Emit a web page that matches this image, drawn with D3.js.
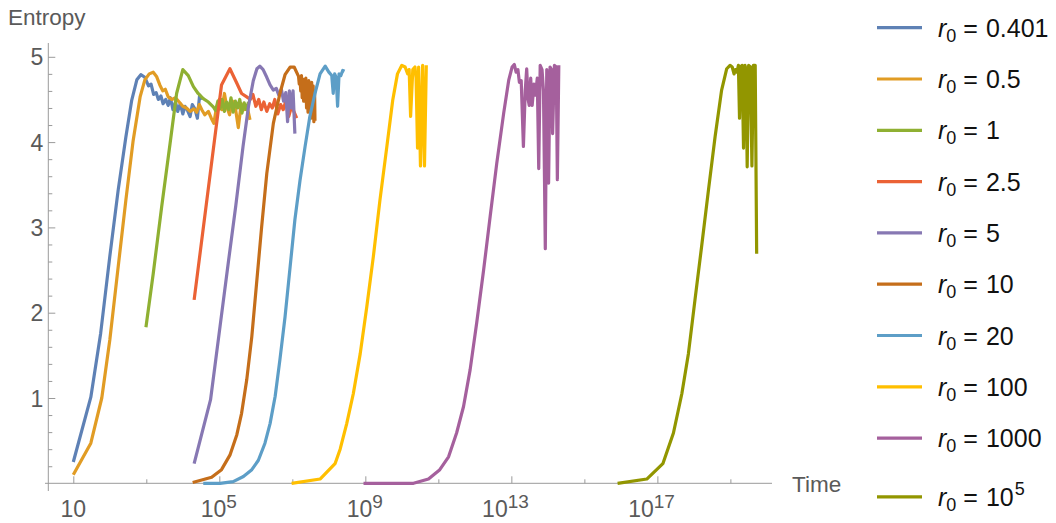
<!DOCTYPE html>
<html>
<head>
<meta charset="utf-8">
<script src="https://cdn.jsdelivr.net/npm/d3@7"></script>
<style>
  html, body { margin: 0; padding: 0; background: #fff; }
  svg { display: block; font-family: "Liberation Sans", Arial, sans-serif; }
</style>
</head>
<body>
<svg id="chart" width="1056" height="523"></svg>
<script>
// Entropy vs. time for several initial radii r0.
// Each point: [log10(time), entropy]
const r0_0401 = [[1.00,0.25],[1.48,1.01],[1.75,1.76],[2.00,2.66],[2.23,3.44],[2.44,4.06],[2.60,4.49],[2.74,4.73],[2.85,4.79],[2.96,4.76],[3.06,4.66],[3.13,4.68],[3.20,4.56],[3.27,4.58],[3.33,4.50],[3.40,4.54],[3.46,4.45],[3.53,4.50],[3.60,4.43],[3.66,4.52],[3.73,4.38],[3.80,4.47],[3.86,4.36],[3.93,4.45],[4.00,4.33],[4.06,4.42],[4.13,4.37],[4.20,4.30],[4.26,4.44],[4.33,4.39],[4.40,4.28],[4.46,4.55],[4.53,4.50]];
const r0_05 = [[1.00,0.10],[1.48,0.47],[1.78,1.00],[2.00,1.68],[2.23,2.54],[2.44,3.32],[2.64,4.02],[2.83,4.53],[2.96,4.73],[3.08,4.80],[3.19,4.82],[3.28,4.77],[3.37,4.67],[3.45,4.60],[3.52,4.62],[3.60,4.53],[3.70,4.50],[3.80,4.52],[3.90,4.47],[4.00,4.42],[4.10,4.40],[4.20,4.36],[4.30,4.39],[4.38,4.35],[4.45,4.44],[4.52,4.38],[4.60,4.32],[4.70,4.36],[4.78,4.28],[4.85,4.22],[4.92,4.40],[5.00,4.50],[5.07,4.38],[5.14,4.57],[5.20,4.42],[5.28,4.32],[5.36,4.48],[5.44,4.40],[5.52,4.17],[5.60,4.45],[5.68,4.38],[5.76,4.42],[5.84,4.26]];
const r0_1 = [[2.99,1.83],[3.19,2.46],[3.42,3.24],[3.65,3.98],[3.83,4.57],[4.00,4.85],[4.15,4.78],[4.29,4.65],[4.42,4.57],[4.56,4.51],[4.70,4.47],[4.84,4.41],[4.90,4.37],[4.96,4.48],[5.02,4.39],[5.08,4.50],[5.14,4.36],[5.20,4.47],[5.26,4.38],[5.32,4.52],[5.38,4.35],[5.44,4.48],[5.50,4.40],[5.56,4.50],[5.62,4.34],[5.68,4.46],[5.74,4.38],[5.80,4.47]];
const r0_25 = [[4.31,2.15],[5.06,4.67],[5.29,4.86],[5.48,4.69],[5.61,4.57],[5.75,4.53],[5.85,4.50],[5.92,4.56],[6.00,4.42],[6.08,4.50],[6.15,4.38],[6.22,4.47],[6.30,4.36],[6.38,4.45],[6.45,4.40],[6.52,4.50],[6.60,4.33],[6.68,4.44],[6.75,4.38],[6.82,4.48],[6.90,4.30],[6.98,4.42],[7.05,4.35],[7.12,4.28]];
const r0_5 = [[4.31,0.23],[4.76,0.98],[5.02,1.84],[5.25,2.60],[5.45,3.25],[5.65,3.95],[5.80,4.42],[5.93,4.72],[6.03,4.86],[6.11,4.89],[6.20,4.85],[6.30,4.76],[6.39,4.67],[6.48,4.61],[6.56,4.63],[6.63,4.55],[6.70,4.62],[6.76,4.48],[6.82,4.58],[6.87,4.24],[6.92,4.60],[6.97,4.40],[7.02,4.60],[7.07,4.10]];
const r0_10 = [[4.27,0.01],[4.79,0.07],[5.06,0.16],[5.29,0.33],[5.48,0.57],[5.61,0.82],[5.75,1.21],[5.89,1.72],[6.02,2.34],[6.16,3.01],[6.30,3.63],[6.48,4.22],[6.66,4.57],[6.80,4.79],[6.94,4.88],[7.05,4.88],[7.17,4.77],[7.19,4.68],[7.21,4.76],[7.23,4.60],[7.25,4.78],[7.27,4.52],[7.29,4.74],[7.31,4.48],[7.33,4.72],[7.35,4.62],[7.37,4.75],[7.39,4.40],[7.41,4.70],[7.43,4.35],[7.45,4.72],[7.47,4.50],[7.49,4.68],[7.51,4.28],[7.53,4.70],[7.55,4.30],[7.57,4.66],[7.59,4.24],[7.61,4.60],[7.62,4.25]];
const r0_20 = [[4.56,0.00],[5.02,0.00],[5.38,0.02],[5.66,0.08],[5.89,0.16],[6.07,0.27],[6.25,0.47],[6.39,0.70],[6.53,1.02],[6.66,1.45],[6.80,1.95],[6.94,2.54],[7.07,3.09],[7.21,3.55],[7.35,3.95],[7.48,4.30],[7.62,4.57],[7.76,4.80],[7.90,4.89],[8.00,4.82],[8.08,4.78],[8.12,4.57],[8.16,4.80],[8.20,4.76],[8.24,4.42],[8.28,4.80],[8.33,4.78],[8.38,4.84],[8.43,4.83]];
const r0_100 = [[6.98,0.00],[7.76,0.05],[8.17,0.23],[8.31,0.40],[8.49,0.70],[8.67,1.05],[8.86,1.52],[9.04,2.07],[9.22,2.66],[9.40,3.32],[9.59,3.95],[9.75,4.49],[9.88,4.80],[10.00,4.90],[10.09,4.88],[10.16,4.80],[10.20,4.85],[10.24,4.30],[10.30,4.85],[10.36,4.88],[10.39,4.75],[10.43,3.93],[10.46,4.88],[10.51,3.72],[10.57,4.90],[10.62,3.72],[10.67,4.90]];
const r0_1000 = [[8.95,0.00],[10.32,0.00],[10.73,0.05],[11.04,0.16],[11.28,0.31],[11.50,0.59],[11.69,0.90],[11.87,1.33],[12.05,1.88],[12.24,2.50],[12.42,3.13],[12.60,3.75],[12.79,4.34],[12.93,4.73],[13.02,4.88],[13.08,4.91],[13.13,4.82],[13.18,4.85],[13.22,4.70],[13.27,4.72],[13.33,3.95],[13.38,4.60],[13.42,4.86],[13.46,4.50],[13.49,4.43],[13.53,4.75],[13.57,4.43],[13.62,4.68],[13.66,4.55],[13.71,4.75],[13.75,3.69],[13.79,4.90],[13.84,4.85],[13.88,4.60],[13.93,2.75],[13.97,4.85],[14.02,3.52],[14.06,4.88],[14.10,4.85],[14.13,4.10],[14.18,4.90],[14.23,4.88],[14.26,3.56],[14.30,4.90]];
const r0_1e5 = [[15.91,0.00],[16.71,0.05],[17.15,0.23],[17.44,0.59],[17.67,1.05],[17.85,1.52],[18.03,2.15],[18.21,2.77],[18.40,3.44],[18.58,4.06],[18.76,4.61],[18.90,4.86],[18.99,4.90],[19.05,4.88],[19.10,4.80],[19.14,4.85],[19.18,4.82],[19.22,4.90],[19.25,4.28],[19.28,4.88],[19.32,4.90],[19.36,3.93],[19.40,4.90],[19.43,4.85],[19.46,3.71],[19.50,4.90],[19.55,4.88],[19.59,3.72],[19.63,4.90],[19.68,4.90],[19.72,2.69]];

// Legend labels: [mantissa text, superscript or null]
const seriesLabels = [["0.401",null],["0.5",null],["1",null],["2.5",null],["5",null],["10",null],["20",null],["100",null],["1000",null],["10","5"]];
const seriesData = [r0_0401, r0_05, r0_1, r0_25, r0_5, r0_10, r0_20, r0_100, r0_1000, r0_1e5];
const seriesColors = ["#5e81b5","#e19c24","#8fb032","#eb6235","#8778b3","#c56e1a","#5d9ec7","#ffbf00","#a5609d","#929600"];

// Axis ticks
const xMajorExp = [1, 5, 9, 13, 17];
const xMinorExp = [3, 7, 11, 15, 19];
const yMajor = [1, 2, 3, 4, 5];
const yMinor = d3.range(0.2, 5.01, 0.2).filter(v => Math.abs(v - Math.round(v)) > 1e-6);

const svg = d3.select("#chart");
const axisColor = "#9a9a9a";
const labelColor = "#5a5a5a";

const x = d3.scaleLog().domain([Math.pow(10, 0.2247), Math.pow(10, 20.14)]).range([45, 772]);
const y = d3.scaleLinear().domain([0, 5]).range([483.3, 56.8]);

// Axis lines
svg.append("line").attr("x1", 45).attr("x2", 772).attr("y1", y(0)).attr("y2", y(0))
  .attr("stroke", axisColor).attr("stroke-width", 1);
svg.append("line").attr("x1", 48.3).attr("x2", 48.3).attr("y1", 43).attr("y2", 491)
  .attr("stroke", axisColor).attr("stroke-width", 1);

// X ticks (pointing up into the plot)
const gx = svg.append("g").attr("transform", `translate(0,${y(0)})`);
gx.call(d3.axisBottom(x).tickValues(xMajorExp.map(e => Math.pow(10, e))).tickSizeInner(-7).tickSizeOuter(0).tickFormat(""));
gx.append("g").call(d3.axisBottom(x).tickValues(xMinorExp.map(e => Math.pow(10, e))).tickSizeInner(-4).tickSizeOuter(0).tickFormat(""));
gx.selectAll(".domain").remove();
gx.selectAll(".tick line").attr("stroke", axisColor);

// X tick labels 10, 10^5, ...
xMajorExp.forEach(e => {
  const t = svg.append("text")
    .attr("y", 516.5)
    .attr("fill", labelColor)
    .attr("font-size", 23)
    .attr("text-anchor", "middle");
  t.append("tspan").text("10");
  if (e !== 1) {
    t.append("tspan").attr("dy", -8.5).attr("font-size", 19).text(String(e));
  }
  const bb = t.node().getBBox();
  t.attr("x", x(Math.pow(10, e)) - (e !== 1 ? (bb.width - 27) / 2 - 4 : 0));
});

// Y ticks (pointing right into the plot)
const gy = svg.append("g").attr("transform", "translate(48.3,0)");
gy.call(d3.axisLeft(y).tickValues(yMajor).tickSizeInner(-7).tickSizeOuter(0).tickPadding(12).tickFormat(d3.format("d")));
gy.append("g").call(d3.axisLeft(y).tickValues(yMinor).tickSizeInner(-4).tickSizeOuter(0).tickFormat(""));
gy.selectAll(".domain").remove();
gy.selectAll(".tick line").attr("stroke", axisColor);
gy.selectAll(".tick text").attr("fill", labelColor).attr("font-size", 23)
  .attr("font-family", "'Liberation Sans', Arial, sans-serif")
  .attr("x", -5).attr("dy", "0.35em");

// Axis titles
svg.append("text").attr("x", 8).attr("y", 25).attr("font-size", 22.5).attr("fill", labelColor).text("Entropy");
svg.append("text").attr("x", 792).attr("y", 491.5).attr("font-size", 22.5).attr("fill", labelColor).text("Time");

// Curves
const line = d3.line()
  .x(d => x(Math.pow(10, d[0])))
  .y(d => y(d[1]));

svg.append("g").selectAll("path")
  .data(seriesData)
  .join("path")
  .attr("d", line)
  .attr("fill", "none")
  .attr("stroke", (d, i) => seriesColors[i])
  .attr("stroke-width", 3.2)
  .attr("stroke-linejoin", "round");

// Legend
const legend = svg.append("g");
seriesLabels.forEach((lab, i) => {
  const cy = 27.7 + 51.3 * i + (lab[1] ? 7.5 : 0);
  legend.append("line")
    .attr("x1", 877).attr("x2", 922).attr("y1", cy).attr("y2", cy)
    .attr("stroke", seriesColors[i]).attr("stroke-width", 3.2);
  const t = legend.append("text")
    .attr("x", 938).attr("y", cy + 9)
    .attr("font-size", 25).attr("fill", "#111");
  t.append("tspan").attr("font-style", "italic").text("r");
  t.append("tspan").attr("font-size", 18).attr("dy", 5).text("0");
  t.append("tspan").attr("dy", -5).attr("dx", 7).text("=");
  t.append("tspan").attr("dx", 8).text(lab[0]);
  if (lab[1]) {
    t.append("tspan").attr("font-size", 18).attr("dy", -11).attr("dx", 1).text(lab[1]);
  }
});
</script>
</body>
</html>
